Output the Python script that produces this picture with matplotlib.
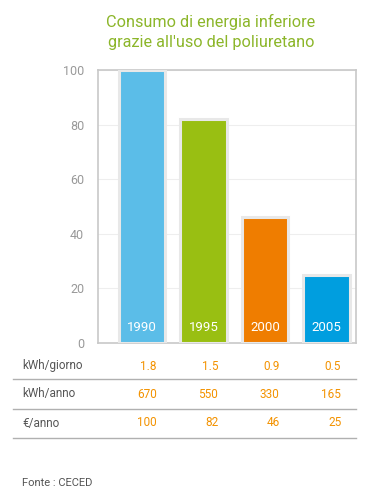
import matplotlib.pyplot as plt
from matplotlib.lines import Line2D
from matplotlib.transforms import blended_transform_factory

years = ['1990', '1995', '2000', '2005']
consumo = [100, 82, 46, 25]  # indice consumo
colori = ['#5bbde8', '#99bf12', '#ef7d00', '#009edf']
yticks = [0, 20, 40, 60, 80, 100]

righe = ['kWh/giorno', 'kWh/anno', '€/anno']
kwh_giorno = ['1.8', '1.5', '0.9', '0.5']
kwh_anno = ['670', '550', '330', '165']
euro_anno = ['100', '82', '46', '25']
tabella = [kwh_giorno, kwh_anno, euro_anno]

plt.rcParams['font.family'] = ['Roboto', 'DejaVu Sans']

W, H = 377, 500
fig = plt.figure(figsize=(W / 100, H / 100), dpi=100)
fig.patch.set_facecolor('white')

# titolo
fig.text(211 / W, 1 - 22 / H, 'Consumo di energia inferiore', color='#8cb62a',
         fontsize=11.7, ha='center', va='center')
fig.text(211 / W, 1 - 42 / H, "grazie all'uso del poliuretano", color='#8cb62a',
         fontsize=11.7, ha='center', va='center')

ax = fig.add_axes([98 / W, 1 - 343 / H, (356 - 98) / W, (343 - 70) / H])
x = range(len(years))
ax.bar(x, consumo, width=0.76, color=colori, edgecolor='#e8e8e8', linewidth=2.2, zorder=3)
for i, y in enumerate(years):
    ax.text(i, 5.5, y, color='white', fontsize=9.5, ha='center', va='center', zorder=4)

ax.set_xlim(-0.715, 3.48)
ax.set_ylim(0, 100)
ax.set_yticks(yticks)
ax.set_yticklabels([str(v) for v in yticks], color='#999999', fontsize=9)
ax.set_xticks([])
ax.tick_params(axis='y', length=0, pad=10)
ax.grid(axis='y', color='#eeeeee', linewidth=0.8, zorder=0)
for s in ax.spines.values():
    s.set_color('#c8c8c8')
    s.set_linewidth(1.2)

# tabella sotto il grafico
tr = blended_transform_factory(ax.transData, fig.transFigure)
row_y = [366, 394, 423]
line_y = [379, 409, 438]
for r, nome in enumerate(righe):
    fig.text(22 / W, 1 - row_y[r] / H, nome, color='#555555', fontsize=8.5,
             ha='left', va='center')
    for i, val in enumerate(tabella[r]):
        ax.text(i + 0.24, 1 - row_y[r] / H, val, transform=tr, color='#f39200',
                fontsize=8.5, ha='right', va='center', clip_on=False)
    fig.add_artist(Line2D([13 / W, 356 / W], [1 - line_y[r] / H] * 2,
                          color='#b0b0b0', linewidth=1, transform=fig.transFigure))

fig.text(22 / W, 1 - 483 / H, 'Fonte : CECED', color='#555555', fontsize=8,
         ha='left', va='center')

fig.savefig('out.png', dpi=100)
